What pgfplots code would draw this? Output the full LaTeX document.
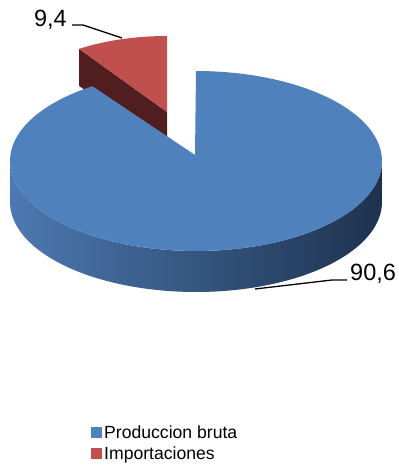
\documentclass[border=0pt]{standalone}
\usepackage{pgfplots}
\pgfplotsset{compat=1.18}
\usepackage{pgfplotstable}
\usepackage{fontspec}
\setmainfont{Liberation Sans}
\definecolor{blueTop}{RGB}{79,129,189}
\definecolor{sideL}{RGB}{76,121,177}
\definecolor{sideM}{RGB}{45,74,113}
\definecolor{sideR}{RGB}{30,50,78}
\definecolor{redTop}{RGB}{192,80,77}
\definecolor{redSide}{RGB}{80,30,30}
\pgfplotstableread{
label value
Produccion 90.6
Importaciones 9.4
}\piedata
\begin{document}
\begin{tikzpicture}
\pgfplotstablegetelem{0}{value}\of\piedata \let\vA\pgfplotsretval
\pgfplotstablegetelem{1}{value}\of\piedata \let\vB\pgfplotsretval
\pgfmathsetmacro{\aEnd}{90+3.6*\vB}
\pgfmathsetmacro{\aFull}{90+3.6*(\vA+\vB)}
\pgfmathsetmacro{\cornX}{167+158*cos(\aEnd)}
\pgfmathsetmacro{\cornY}{-112+76*sin(\aEnd)}
\pgfmathsetmacro{\cornYb}{\cornY-37}
\begin{axis}[
  scale only axis, width=399pt, height=466pt,
  xmin=0, xmax=399, ymin=-466, ymax=0,
  hide axis, clip=false,
  legend style={at={(axis cs:91,-424)}, anchor=north west, draw=none, fill=none,
    font=\fontsize{17.6}{20}\selectfont, inner sep=0pt, row sep=2pt,
    cells={anchor=west}},
  legend image code/.code={\fill[#1] (0pt,-5pt) rectangle (11pt,6pt);},
]
\path (axis cs:0,0) rectangle (axis cs:399,-466);
% red exploded slice: radial side face
\addplot[fill=redSide, draw=none, forget plot] coordinates {
  (167,-112) (\cornX,\cornY) (\cornX,\cornYb) (167,-149)} -- cycle;
% red top face
\addplot[fill=redTop, draw=none, domain=90:\aEnd, samples=40, forget plot]
  ({167+158*cos(x)},{-112+76*sin(x)}) -- (axis cs:167,-112) -- cycle;
% blue outer side
\addplot[left color=sideL, middle color=sideM, right color=sideR, draw=none,
  domain=0:2, samples=201, forget plot]
  ({196+186*cos(x<1.0025 ? 180+180*x : 360-180*(x-1))},
   {(x<1.0025 ? -161 : -202)+90*sin(x<1.0025 ? 180+180*x : 360-180*(x-1))}) -- cycle;
% blue top face
\addplot[fill=blueTop, draw=none, domain=\aEnd:\aFull, samples=200, forget plot]
  ({196+186*cos(x)},{-161+90*sin(x)}) -- (axis cs:195,-155) -- cycle;
% labels
\draw[line width=1.3pt] (axis cs:72,-25) -- (axis cs:83,-25) -- (axis cs:122,-38);
\node[anchor=base east, font=\fontsize{23.5}{28}\selectfont, inner sep=0pt] at (axis cs:67,-27) {9,4};
\draw[line width=1.3pt] (axis cs:255,-289) -- (axis cs:332,-280) -- (axis cs:347,-280);
\node[anchor=base west, font=\fontsize{23.5}{28}\selectfont, inner sep=0pt] at (axis cs:350,-281) {90,6};
% legend
\addlegendimage{fill=blueTop, draw=none}
\addlegendentry{Produccion bruta}
\addlegendimage{fill=redTop, draw=none}
\addlegendentry{Importaciones}
\end{axis}
\end{tikzpicture}
\end{document}
